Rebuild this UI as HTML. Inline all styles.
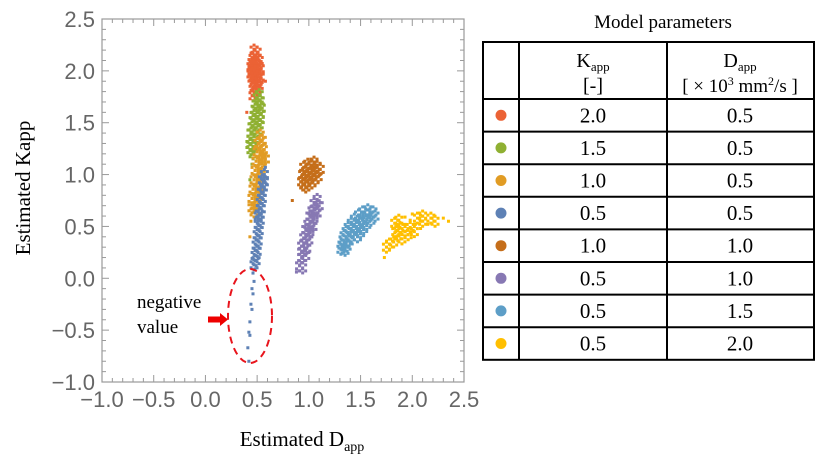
<!DOCTYPE html>
<html><head><meta charset="utf-8"><style>
html,body{margin:0;padding:0;background:#fff;width:817px;height:466px;overflow:hidden}
svg{display:block}
.serif{font-family:"Liberation Serif","DejaVu Serif",serif}
.sans{font-family:"Liberation Sans","DejaVu Sans",sans-serif}
</style></head><body>
<svg id="chart" width="817" height="466" xmlns="http://www.w3.org/2000/svg">
<g id="plot"></g>
<g id="table"></g>
</svg>
<script>
const xTicks=[-1.0,-0.5,0.0,0.5,1.0,1.5,2.0,2.5];
const yTicks=[-1.0,-0.5,0.0,0.5,1.0,1.5,2.0,2.5];
const seriesNames=["k2.0-d0.5","k1.5-d0.5","k1.0-d0.5","k0.5-d0.5","k1.0-d1.0","k0.5-d1.0","k0.5-d1.5","k0.5-d2.0"];
const seriesColors=["#EB6235","#8FB032","#E19C24","#5E81B5","#C56E1A","#8778B3","#5D9EC7","#FFBF00"];
const kappValues=["2.0","1.5","1.0","0.5","1.0","0.5","0.5","0.5"];
const dappValues=["0.5","0.5","0.5","0.5","1.0","1.0","1.5","2.0"];
const redPts=[[0.47,2.2],[0.5,2.18],[0.48,2.15],[0.46,2.12],[0.5,2.12],[0.52,2.1],[0.45,2.08],[0.48,2.08],[0.51,2.06],[0.44,2.04],[0.47,2.04],[0.5,2.03],[0.53,2.02],[0.45,2.0],[0.48,2.0],[0.51,1.99],[0.44,1.97],[0.47,1.96],[0.5,1.95],[0.53,1.94],[0.45,1.93],[0.48,1.92],[0.51,1.9],[0.46,1.88],[0.49,1.87],[0.52,1.86],[0.47,1.84],[0.5,1.82],[0.48,1.79],[0.46,1.76],[0.58,1.9],[0.4,1.6]];
const greenPts=[[0.52,1.77],[0.5,1.74],[0.53,1.71],[0.49,1.68],[0.52,1.67],[0.54,1.64],[0.48,1.63],[0.51,1.61],[0.53,1.58],[0.47,1.57],[0.5,1.55],[0.53,1.53],[0.46,1.52],[0.49,1.5],[0.52,1.48],[0.45,1.46],[0.48,1.44],[0.51,1.42],[0.44,1.4],[0.47,1.38],[0.5,1.36],[0.44,1.34],[0.47,1.32],[0.43,1.29],[0.46,1.27],[0.44,1.24],[0.46,1.2],[0.43,0.95],[0.45,1.1]];
const orangePts=[[0.53,1.38],[0.55,1.33],[0.51,1.3],[0.54,1.27],[0.56,1.24],[0.5,1.22],[0.53,1.19],[0.55,1.15],[0.49,1.13],[0.52,1.1],[0.54,1.06],[0.48,1.04],[0.51,1.01],[0.53,0.97],[0.47,0.95],[0.5,0.92],[0.52,0.88],[0.46,0.86],[0.49,0.83],[0.51,0.79],[0.45,0.77],[0.48,0.74],[0.5,0.7],[0.45,0.68],[0.47,0.64],[0.44,0.55],[0.43,0.4],[0.58,1.15]];
const bluePts=[[0.58,1.07],[0.57,1.0],[0.55,0.95],[0.56,0.88],[0.54,0.83],[0.55,0.77],[0.53,0.73],[0.54,0.67],[0.52,0.62],[0.53,0.56],[0.51,0.52],[0.52,0.46],[0.5,0.42],[0.51,0.36],[0.49,0.32],[0.5,0.26],[0.48,0.22],[0.49,0.17],[0.47,0.13],[0.48,0.09],[0.46,0.05],[0.47,-0.03],[0.45,-0.1],[0.46,-0.15],[0.44,-0.25],[0.45,-0.3],[0.43,-0.42],[0.42,-0.52],[0.43,-0.55],[0.41,-0.67],[0.42,-0.8],[0.57,0.93],[0.51,0.6]];
const brownPts=[[1.05,1.12],[0.99,1.1],[1.03,1.09],[1.08,1.08],[0.95,1.07],[1.0,1.06],[1.05,1.05],[1.11,1.05],[0.97,1.03],[1.02,1.02],[1.07,1.02],[0.94,1.0],[0.99,0.99],[1.04,0.99],[1.09,0.98],[0.96,0.96],[1.01,0.96],[1.06,0.95],[0.93,0.93],[0.98,0.93],[1.03,0.92],[0.95,0.9],[1.0,0.9],[0.97,0.88],[0.84,0.75]];
const purplePts=[[1.08,0.76],[1.05,0.72],[1.1,0.7],[1.06,0.66],[1.03,0.65],[1.08,0.63],[1.01,0.6],[1.05,0.58],[1.02,0.54],[0.99,0.52],[1.04,0.5],[0.97,0.47],[1.01,0.45],[0.98,0.41],[0.95,0.39],[1.0,0.37],[0.96,0.34],[0.93,0.31],[0.98,0.29],[0.94,0.26],[0.97,0.22],[0.93,0.2],[0.91,0.12],[0.88,0.06],[0.94,0.1]];
const lightbluePts=[[1.57,0.66],[1.52,0.64],[1.62,0.64],[1.48,0.61],[1.56,0.61],[1.64,0.6],[1.44,0.57],[1.52,0.57],[1.6,0.56],[1.41,0.53],[1.49,0.53],[1.56,0.52],[1.38,0.49],[1.46,0.49],[1.53,0.48],[1.36,0.45],[1.43,0.45],[1.5,0.44],[1.34,0.41],[1.41,0.4],[1.47,0.4],[1.33,0.37],[1.39,0.36],[1.32,0.32],[1.37,0.31],[1.31,0.28],[1.35,0.27]];
const yellowPts=[[2.0,0.62],[2.1,0.6],[1.93,0.59],[2.05,0.58],[2.18,0.58],[2.3,0.58],[1.87,0.56],[1.98,0.56],[2.1,0.55],[2.22,0.55],[2.35,0.55],[1.83,0.53],[1.93,0.52],[2.03,0.52],[2.15,0.52],[1.88,0.49],[1.98,0.49],[2.08,0.48],[1.84,0.45],[1.93,0.45],[2.02,0.45],[1.86,0.41],[1.96,0.42],[1.9,0.38],[1.78,0.33],[1.75,0.3],[1.73,0.2],[1.82,0.35]];
const allSeries=[redPts,greenPts,orangePts,bluePts,brownPts,purplePts,lightbluePts,yellowPts];

const NS="http://www.w3.org/2000/svg";
const L=102,R=464,T=19,B=382,XMIN=-1,XMAX=2.5,YMIN=-1,YMAX=2.5;
function sx(v){return L+(v-XMIN)/(XMAX-XMIN)*(R-L);}
function sy(v){return B-(v-YMIN)/(YMAX-YMIN)*(B-T);}
function mk(tag,attrs,parent){const e=document.createElementNS(NS,tag);for(const k in attrs)e.setAttribute(k,attrs[k]);parent.appendChild(e);return e;}
const plot=document.getElementById('plot');

const fr=mk('rect',{x:L,y:T,width:R-L,height:B-T,fill:'none',stroke:'#999','stroke-width':1.2},plot);



for(let i=0;i<=35;i++){
  const v=XMIN+i*0.1, major=(i%5===0), len=major?7:4;
  const X=sx(v);
  const t1=mk('line',{x1:X,y1:B,x2:X,y2:B-len,stroke:'#999','stroke-width':1},plot);
  
  
  const t2=mk('line',{x1:X,y1:T,x2:X,y2:T+len,stroke:'#999','stroke-width':1},plot);
  
  
  const Y=sy(v);
  const t3=mk('line',{x1:L,y1:Y,x2:L+len,y2:Y,stroke:'#999','stroke-width':1},plot);
  
  
  const t4=mk('line',{x1:R,y1:Y,x2:R-len,y2:Y,stroke:'#999','stroke-width':1},plot);
  
  
}
xTicks.forEach(v=>{
  const t=mk('text',{x:sx(v),y:407,'text-anchor':'middle','class':'sans','font-size':22,fill:'#666'},plot);
  t.textContent=v.toFixed(1).replace('-','\u2212');
  
  
});
yTicks.forEach(v=>{
  const t=mk('text',{x:95,y:sy(v)+8,'text-anchor':'end','class':'sans','font-size':22,fill:'#666'},plot);
  t.textContent=v.toFixed(1).replace('-','\u2212');
  
  
});

// dense points drawn as a small fixed glyph pattern; isolated points as single dots
const glyph=[[0,0],[-3,-3],[3,3],[3,-3],[-3,3],[0,-5],[0,5]];
allSeries.forEach((pts,si)=>{
  const g=mk('g',{},plot);
  
  
  const scr=pts.map(p=>[sx(p[0]),sy(p[1])]);
  scr.forEach((q,i)=>{
    let nn=1e9;
    scr.forEach((r,j)=>{if(j!==i){const d=Math.hypot(q[0]-r[0],q[1]-r[1]);if(d<nn)nn=d;}});
    const isolated=nn>6 || pts[i][1]<0.1&&si===3;
    const pg=mk('g',{},g);
    
    
    (isolated?[[0,0]]:glyph).forEach(o=>{mk('rect',{x:q[0]+o[0]-1.5,y:q[1]+o[1]-1.5,width:3,height:3,fill:seriesColors[si]},pg);});
  });
});

const yt=mk('text',{x:0,y:0,transform:'translate(30,188) rotate(-90)','text-anchor':'middle','class':'serif','font-size':21,fill:'#000'},plot);
yt.textContent='Estimated Kapp';


const xt=mk('text',{x:302,y:446,'text-anchor':'middle','class':'serif','font-size':21,fill:'#000'},plot);
xt.innerHTML='Estimated D<tspan font-size="14" dy="5">app</tspan>';



const a1=mk('text',{x:137,y:308,'class':'serif','font-size':19,fill:'#000'},plot);
a1.textContent='negative';


const a2=mk('text',{x:137,y:333,'class':'serif','font-size':19,fill:'#000'},plot);
a2.textContent='value';


const ar=mk('path',{d:'M208,316.5 L220,316.5 L220,313 L228,319.5 L220,326 L220,322.5 L208,322.5 Z',fill:'#e00'},plot);


const el=mk('ellipse',{cx:250,cy:316,rx:22,ry:47,fill:'none',stroke:'#e8141c','stroke-width':2,'stroke-dasharray':'7,5'},plot);



const tb=document.getElementById('table');
const tt=mk('text',{x:663,y:28,'text-anchor':'middle','class':'serif','font-size':19,fill:'#000'},tb);
tt.textContent='Model parameters';


const TL=483,TR=814,C1=519,C2=667,TT=42,HB=99,RH=32.6;
const rowsBottom=HB+RH*8;
mk('rect',{x:TL,y:TT,width:TR-TL,height:rowsBottom-TT,fill:'none',stroke:'#000','stroke-width':2},tb);
mk('line',{x1:C1,y1:TT,x2:C1,y2:rowsBottom,stroke:'#000','stroke-width':2},tb);
mk('line',{x1:C2,y1:TT,x2:C2,y2:rowsBottom,stroke:'#000','stroke-width':2},tb);
for(let i=0;i<8;i++){mk('line',{x1:TL,y1:HB+RH*i,x2:TR,y2:HB+RH*i,stroke:'#000','stroke-width':2},tb);}
const h1=mk('text',{x:593,y:67,'text-anchor':'middle','class':'serif','font-size':20},tb);
h1.innerHTML='K<tspan font-size="13" dy="4">app</tspan>';


const h1b=mk('text',{x:593,y:92,'text-anchor':'middle','class':'serif','font-size':20},tb);
h1b.textContent='[-]';


const h2=mk('text',{x:740,y:67,'text-anchor':'middle','class':'serif','font-size':20},tb);
h2.innerHTML='D<tspan font-size="13" dy="4">app</tspan>';


const h2b=mk('text',{x:740,y:92,'text-anchor':'middle','class':'serif','font-size':19},tb);
h2b.innerHTML='[ \u00d7 10<tspan font-size="12" dy="-7">3</tspan><tspan dy="7"> mm</tspan><tspan font-size="12" dy="-7">2</tspan><tspan dy="7">/s ]</tspan>';


for(let i=0;i<8;i++){
  const cy=HB+RH*i+RH/2;
  const d=mk('circle',{cx:501,cy:cy,r:5.5,fill:seriesColors[i]},tb);
  
  
  const k=mk('text',{x:593,y:cy+7,'text-anchor':'middle','class':'serif','font-size':21},tb);
  k.textContent=kappValues[i];
  
  
  const dv=mk('text',{x:740,y:cy+7,'text-anchor':'middle','class':'serif','font-size':21},tb);
  dv.textContent=dappValues[i];
  
  
}
</script>
</body></html>
